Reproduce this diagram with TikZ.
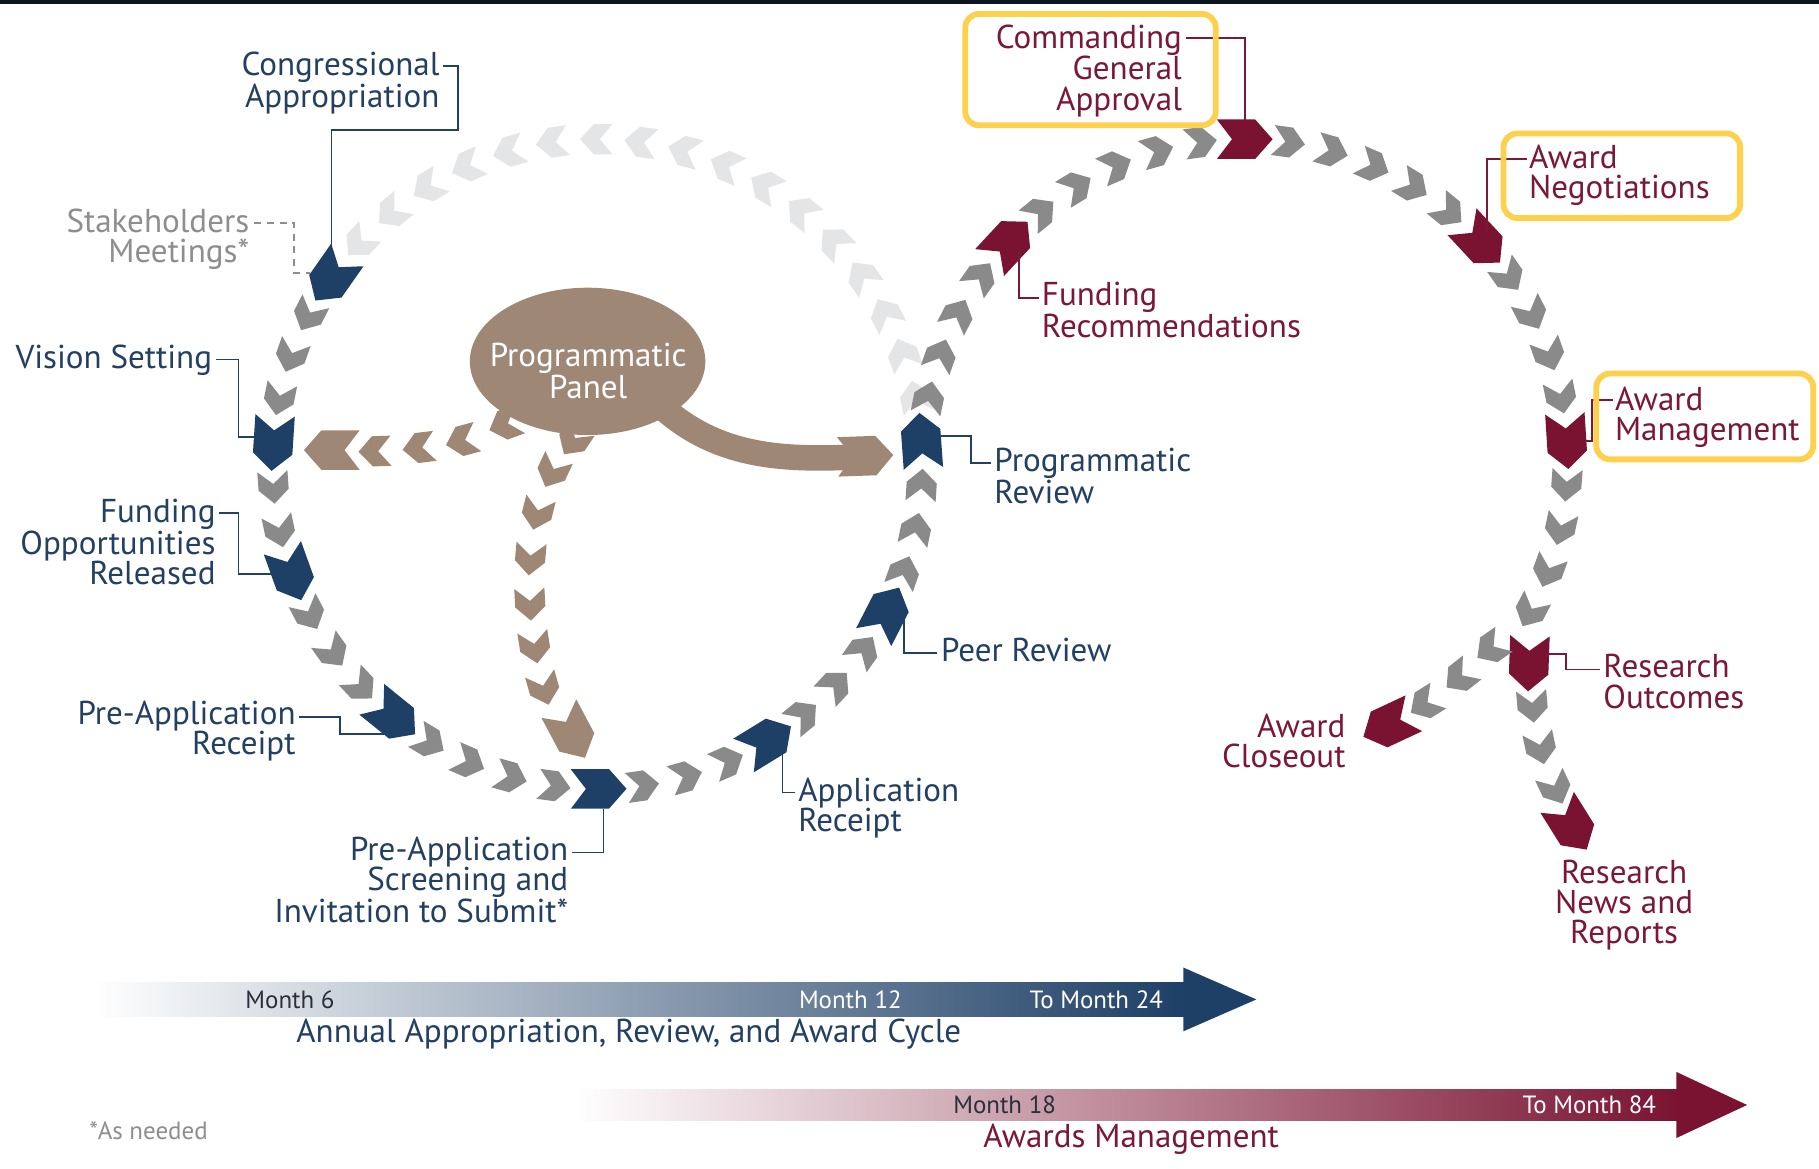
\documentclass[tikz,border=0pt]{standalone}
\usepackage{fontspec}
\setmainfont{PT Sans}
\usetikzlibrary{calc}
\definecolor{navy}{HTML}{1E3F66}
\definecolor{maroon}{HTML}{7A1332}
\definecolor{chevgrey}{HTML}{8A8A8A}
\definecolor{faded}{HTML}{E4E5E7}
\definecolor{tan}{HTML}{9F8776}
\definecolor{navytext}{HTML}{233F62}
\definecolor{maroontext}{HTML}{7B1737}
\definecolor{stakegrey}{HTML}{8E8E8E}
\definecolor{hilite}{HTML}{FDD14E}
\definecolor{topbar}{HTML}{0D1520}
\definecolor{bartext}{HTML}{2A2F3A}
\tikzset{
  gchev/.pic={\fill[pic actions] (-14,13) -- (2,13) -- (14,0) -- (2,-13) -- (-14,-13) -- (-3,0) -- cycle;},
  kchev/.pic={\fill[pic actions] (-24,17) -- (9,17) -- (24,0) -- (9,-17) -- (-24,-17) -- (-11,0) -- cycle;},
  lbl/.style={inner sep=0pt, font=\fontsize{28.5}{26}\selectfont},
  navylbl/.style={lbl, text=navytext},
  redlbl/.style={lbl, text=maroontext},
  navyline/.style={draw=navytext, line width=1.4pt},
  redline/.style={draw=maroontext, line width=1.4pt},
  hl/.style={draw=hilite, line width=5pt, rounded corners=12pt},
  barlbl/.style={inner sep=0pt, font=\fontsize{21.5}{22}\selectfont},
  titlelbl/.style={inner sep=0pt, font=\fontsize{28.5}{30}\selectfont},
}
\begin{document}
\begin{tikzpicture}[x=1pt,y=-1pt]
\useasboundingbox (0,0) rectangle (1568,1007);
\fill[white] (0,0) rectangle (1568,1007);
\fill[topbar] (0,0) rectangle (1568,3.5);

% faded top arc of left circle
\foreach \k in {29,...,45}{
  \pgfmathsetmacro\t{145+7.826*\k}
  \pic[fill=faded, rotate=\t+90] at ({515+280*cos(\t)},{400-280*sin(\t)}) {gchev};
}
% grey chevrons left circle
\foreach \k in {1,2,3,5,6,8,9,10,12,13,14,15,17,18,19,21,22,23,25,26,27}{
  \pgfmathsetmacro\t{145+7.826*\k}
  \pic[fill=chevgrey, rotate=\t+90] at ({515+280*cos(\t)},{400-280*sin(\t)}) {gchev};
}
% key chevrons left circle
\foreach \k/\n in {0/Cong,4/Vision,7/FundOpp,11/PreRec,16/Screen,20/AppRec,24/Peer,28/ProgRev}{
  \pgfmathsetmacro\t{145+7.826*\k}
  \pic[fill=navy, rotate=\t+90] at ({515+280*cos(\t)},{400-280*sin(\t)}) {kchev};
  \coordinate (c\n) at ({515+280*cos(\t)},{400-280*sin(\t)});
}
% grey chevrons right circle
\foreach \j in {-4,-3,-2,-1,1,2,3,4,5,7,8,9,10,11,13,14,15,16,18,19,20,21}{
  \pgfmathsetmacro\t{137.1-7.85*\j}
  \pic[fill=chevgrey, rotate=\t-90] at ({1073+278*cos(\t)},{398-278*sin(\t)}) {gchev};
}
% key chevrons right circle
\foreach \j/\n in {0/FundRec,6/CG,12/AwNeg,17/AwMgmt}{
  \pgfmathsetmacro\t{137.1-7.85*\j}
  \pic[fill=maroon, rotate=\t-90] at ({1073+278*cos(\t)},{398-278*sin(\t)}) {kchev};
  \coordinate (c\n) at ({1073+278*cos(\t)},{398-278*sin(\t)});
}
% branches
\coordinate (cOut) at (1318,572);
\pic[fill=maroon, rotate=-92] at (cOut) {kchev};
\foreach \x/\y/\r in {1285/559/215,1258/584/218,1228/607/212}{
  \pic[fill=chevgrey, rotate=\r] at (\x,\y) {gchev};
}
\pic[fill=maroon, rotate=205] at (1197,625) {kchev};
\foreach \x/\y/\r in {1321/609/-85,1328/645/-78,1341/680/-65}{
  \pic[fill=chevgrey, rotate=\r] at (\x,\y) {gchev};
}
\pic[fill=maroon, rotate=-58] at (1355,712) {kchev};

% tan branches
\foreach \x/\y/\r in {435/366/200,398/380/195,361/386/187,323/389/182}{
  \pic[fill=tan, rotate=\r] at (\x,\y) {gchev};
}
\pic[fill=tan, rotate=180] at (286,388) {kchev};
\foreach \x/\y/\r in {494/380/236,476/407/245,463/443/256,457/482/265,457/521/273,461/558/279,469/594/286}{
  \pic[fill=tan, rotate=\r] at (\x,\y) {gchev};
}
\pic[fill=tan, rotate=298] at (493,632) {kchev};
\draw[tan, line width=22pt] (558,338) .. controls (612,398) and (680,396) .. (738,394);
\pic[fill=tan, rotate=2] at (746,393) {kchev};

% Programmatic panel
\fill[tan] (506.5,311.5) ellipse [x radius=101.5, y radius=63.5];
\node[lbl, text=white, align=center] (panel) at (507,320) {Programmatic\\Panel};

% labels, left circle
\node[navylbl, align=right, anchor=north east] (lCong) at (379,45) {Congressional\\Appropriation};
\node[lbl, text=stakegrey, align=right, anchor=north east] (lStake) at (215,180) {Stakeholders\\Meetings*};
\node[navylbl, align=right, anchor=north east] (lVision) at (183,297) {Vision Setting};
\node[navylbl, align=right, anchor=north east] (lFundOpp) at (186,430) {Funding\\Opportunities\\Released};
\node[navylbl, align=right, anchor=north east] (lPreRec) at (255,604) {Pre-Application\\Receipt};
\node[navylbl, align=right, anchor=north east] (lScreen) at (490,721) {Pre-Application\\Screening and\\Invitation to Submit*};
\node[navylbl, align=left, anchor=north west] (lAppRec) at (688,670) {Application\\Receipt};
\node[navylbl, align=left, anchor=north west] (lPeer) at (811,550) {Peer Review};
\node[navylbl, align=left, anchor=north west] (lProgRev) at (857,386) {Programmatic\\Review};

% labels, right circle
\node[redlbl, align=left, anchor=north west] (lFundRec) at (898,243) {Funding\\Recommendations};
\node[redlbl, align=right, anchor=north east] (lCG) at (1019,21) {Commanding\\General\\Approval};
\node[redlbl, align=left, anchor=north west] (lAwNeg) at (1318,125) {Award\\Negotiations};
\node[redlbl, align=left, anchor=north west] (lAwMgmt) at (1392,333) {Award\\Management};
\node[redlbl, align=left, anchor=north west] (lOut) at (1382,564) {Research\\Outcomes};
\node[redlbl, align=right, anchor=north east] (lClose) at (1160,615) {Award\\Closeout};
\node[redlbl, align=center, anchor=north] (lNews) at (1400,741) {Research\\News and\\Reports};

% connectors
\draw[navyline] ($(lCong.north east)+(3,12)$) -| (395,112) -| ($(cCong)+(0,-17)$);
\draw[draw=stakegrey, line width=1.4pt, dash pattern=on 6pt off 5pt] ($(lStake.north east)+(4,12)$) -| ($(cCong)+(-32,-4)$) -- ($(cCong)+(-18,-4)$);
\draw[navyline] ($(lVision.north east)+(3,13)$) -| ($(cVision)+(-30,-5)$) -- ($(cVision)+(-15,-5)$);
\draw[navyline] ($(lFundOpp.north east)+(3,12)$) -| ($(cFundOpp)+(-46,0)$) -- ($(cFundOpp)+(-12,0)$);
\draw[navyline] ($(lPreRec.north east)+(3,14)$) -| ($(cPreRec)+(-46,15)$) -- ($(cPreRec)+(-8,15)$);
\draw[navyline] ($(lScreen.north east)+(3,14)$) -| ($(cScreen)+(4,17)$);
\draw[navyline] ($(lAppRec.north west)+(-3,13)$) -| ($(cAppRec)+(13,10)$);
\draw[navyline] ($(lPeer.north west)+(-3,13)$) -| ($(cPeer)+(15,5)$);
\draw[navyline] ($(lProgRev.north west)+(-3,13)$) -| ($(cProgRev)+(43,-4)$) -- ($(cProgRev)+(16,-4)$);
\draw[redline] ($(lFundRec.north west)+(-2,14)$) -| ($(cFundRec)+(9,8)$);
\draw[redline] ($(lCG.north east)+(3,12)$) -| ($(cCG)+(0,-16)$);
\draw[redline] ($(lAwNeg.north west)+(-2,12)$) -| ($(cAwNeg)+(5,-10)$);
\draw[redline] ($(lAwMgmt.north west)+(-2,12)$) -| ($(cAwMgmt)+(22,0)$) -- ($(cAwMgmt)+(16,0)$);
\draw[redline] ($(cOut)+(15,-8)$) -- ($(cOut)+(32,-8)$) |- ($(lOut.north west)+(-3,13)$);

% highlight boxes
\draw[hl] (832,12) rectangle (1048,108);
\draw[hl] (1296,115) rectangle (1500,188);
\draw[hl] (1376,322) rectangle (1563,396);

% timeline arrows
\shade[left color=white, right color=navy] (80,847) rectangle (1022,876);
\fill[navy] (1020,834) -- (1083,861.5) -- (1020,889) -- cycle;
\node[barlbl, text=bartext] (m6) at (250,861.5) {Month 6};
\node[barlbl, text=white] (m12) at (733,861.5) {Month 12};
\node[barlbl, text=white] (m24) at (945,861.5) {To Month 24};
\node[titlelbl, text=navytext] (cyc) at (542,891) {Annual Appropriation, Review, and Award Cycle};

\shade[left color=white, right color=maroon] (495,939) rectangle (1447,966);
\fill[maroon] (1445,924) -- (1506,952.5) -- (1445,981) -- cycle;
\node[barlbl, text=bartext] (m18) at (866,952.5) {Month 18};
\node[barlbl, text=white] (m84) at (1370,952.5) {To Month 84};
\node[titlelbl, text=maroontext] (awm) at (975,982) {Awards Management};

\node[barlbl, text=stakegrey] (asneeded) at (128,975) {*As needed};
\end{tikzpicture}
\end{document}
